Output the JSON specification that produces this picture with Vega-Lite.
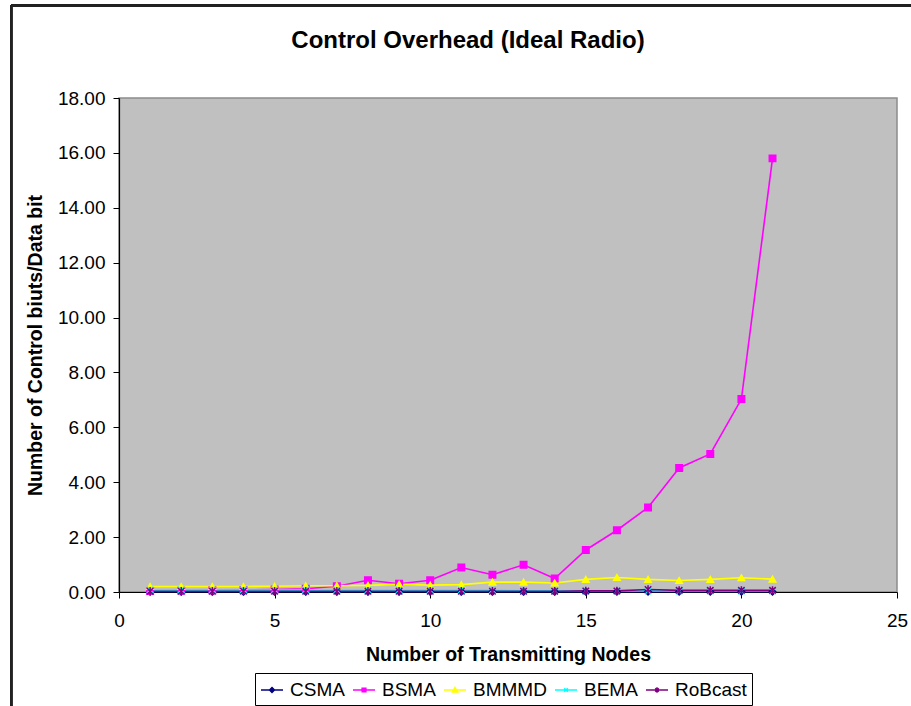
{
  "$schema": "https://vega.github.io/schema/vega-lite/v6.json",
  "width": 778,
  "height": 494,
  "autosize": {"type": "none"},
  "padding": {"left": 119, "top": 98, "right": 14, "bottom": 114},
  "background": "white",
  "title": {
    "text": "Control Overhead (Ideal Radio)",
    "font": "Liberation Sans",
    "fontSize": 24,
    "fontWeight": "bold",
    "color": "black",
    "anchor": "middle",
    "baseline": "alphabetic",
    "offset": -67,
    "dx": -40
  },
  "datasets": {
    "overhead": [
      {"n": 1, "series": "CSMA", "value": 0.01}, {"n": 2, "series": "CSMA", "value": 0.01}, {"n": 3, "series": "CSMA", "value": 0.01},
      {"n": 4, "series": "CSMA", "value": 0.01}, {"n": 5, "series": "CSMA", "value": 0.01}, {"n": 6, "series": "CSMA", "value": 0.01},
      {"n": 7, "series": "CSMA", "value": 0.01}, {"n": 8, "series": "CSMA", "value": 0.01}, {"n": 9, "series": "CSMA", "value": 0.01},
      {"n": 10, "series": "CSMA", "value": 0.01}, {"n": 11, "series": "CSMA", "value": 0.01}, {"n": 12, "series": "CSMA", "value": 0.01},
      {"n": 13, "series": "CSMA", "value": 0.01}, {"n": 14, "series": "CSMA", "value": 0.01}, {"n": 15, "series": "CSMA", "value": 0.01},
      {"n": 16, "series": "CSMA", "value": 0.01}, {"n": 17, "series": "CSMA", "value": 0.01}, {"n": 18, "series": "CSMA", "value": 0.01},
      {"n": 19, "series": "CSMA", "value": 0.01}, {"n": 20, "series": "CSMA", "value": 0.01}, {"n": 21, "series": "CSMA", "value": 0.01},

      {"n": 1, "series": "BSMA", "value": 0.04}, {"n": 2, "series": "BSMA", "value": 0.05}, {"n": 3, "series": "BSMA", "value": 0.06},
      {"n": 4, "series": "BSMA", "value": 0.07}, {"n": 5, "series": "BSMA", "value": 0.09}, {"n": 6, "series": "BSMA", "value": 0.12},
      {"n": 7, "series": "BSMA", "value": 0.21}, {"n": 8, "series": "BSMA", "value": 0.43}, {"n": 9, "series": "BSMA", "value": 0.30},
      {"n": 10, "series": "BSMA", "value": 0.43}, {"n": 11, "series": "BSMA", "value": 0.89}, {"n": 12, "series": "BSMA", "value": 0.63},
      {"n": 13, "series": "BSMA", "value": 0.99}, {"n": 14, "series": "BSMA", "value": 0.49}, {"n": 15, "series": "BSMA", "value": 1.53},
      {"n": 16, "series": "BSMA", "value": 2.25}, {"n": 17, "series": "BSMA", "value": 3.08}, {"n": 18, "series": "BSMA", "value": 4.52},
      {"n": 19, "series": "BSMA", "value": 5.03}, {"n": 20, "series": "BSMA", "value": 7.03}, {"n": 21, "series": "BSMA", "value": 15.80},

      {"n": 1, "series": "BMMMD", "value": 0.20}, {"n": 2, "series": "BMMMD", "value": 0.20}, {"n": 3, "series": "BMMMD", "value": 0.20},
      {"n": 4, "series": "BMMMD", "value": 0.20}, {"n": 5, "series": "BMMMD", "value": 0.21}, {"n": 6, "series": "BMMMD", "value": 0.23},
      {"n": 7, "series": "BMMMD", "value": 0.23}, {"n": 8, "series": "BMMMD", "value": 0.24}, {"n": 9, "series": "BMMMD", "value": 0.28},
      {"n": 10, "series": "BMMMD", "value": 0.25}, {"n": 11, "series": "BMMMD", "value": 0.27}, {"n": 12, "series": "BMMMD", "value": 0.36},
      {"n": 13, "series": "BMMMD", "value": 0.36}, {"n": 14, "series": "BMMMD", "value": 0.33}, {"n": 15, "series": "BMMMD", "value": 0.46},
      {"n": 16, "series": "BMMMD", "value": 0.53}, {"n": 17, "series": "BMMMD", "value": 0.46}, {"n": 18, "series": "BMMMD", "value": 0.42},
      {"n": 19, "series": "BMMMD", "value": 0.46}, {"n": 20, "series": "BMMMD", "value": 0.52}, {"n": 21, "series": "BMMMD", "value": 0.47},

      {"n": 1, "series": "BEMA", "value": 0.07}, {"n": 2, "series": "BEMA", "value": 0.07}, {"n": 3, "series": "BEMA", "value": 0.07},
      {"n": 4, "series": "BEMA", "value": 0.07}, {"n": 5, "series": "BEMA", "value": 0.07}, {"n": 6, "series": "BEMA", "value": 0.07},
      {"n": 7, "series": "BEMA", "value": 0.07}, {"n": 8, "series": "BEMA", "value": 0.07}, {"n": 9, "series": "BEMA", "value": 0.07},
      {"n": 10, "series": "BEMA", "value": 0.07}, {"n": 11, "series": "BEMA", "value": 0.07}, {"n": 12, "series": "BEMA", "value": 0.07},
      {"n": 13, "series": "BEMA", "value": 0.04}, {"n": 14, "series": "BEMA", "value": 0.04}, {"n": 15, "series": "BEMA", "value": 0.04},
      {"n": 16, "series": "BEMA", "value": 0.04}, {"n": 17, "series": "BEMA", "value": 0.04}, {"n": 18, "series": "BEMA", "value": 0.04},
      {"n": 19, "series": "BEMA", "value": 0.04}, {"n": 20, "series": "BEMA", "value": 0.04}, {"n": 21, "series": "BEMA", "value": 0.04},

      {"n": 1, "series": "RoBcast", "value": 0.03}, {"n": 2, "series": "RoBcast", "value": 0.03}, {"n": 3, "series": "RoBcast", "value": 0.03},
      {"n": 4, "series": "RoBcast", "value": 0.03}, {"n": 5, "series": "RoBcast", "value": 0.03}, {"n": 6, "series": "RoBcast", "value": 0.03},
      {"n": 7, "series": "RoBcast", "value": 0.03}, {"n": 8, "series": "RoBcast", "value": 0.03}, {"n": 9, "series": "RoBcast", "value": 0.03},
      {"n": 10, "series": "RoBcast", "value": 0.03}, {"n": 11, "series": "RoBcast", "value": 0.03}, {"n": 12, "series": "RoBcast", "value": 0.03},
      {"n": 13, "series": "RoBcast", "value": 0.03}, {"n": 14, "series": "RoBcast", "value": 0.03}, {"n": 15, "series": "RoBcast", "value": 0.04},
      {"n": 16, "series": "RoBcast", "value": 0.04}, {"n": 17, "series": "RoBcast", "value": 0.09}, {"n": 18, "series": "RoBcast", "value": 0.06},
      {"n": 19, "series": "RoBcast", "value": 0.06}, {"n": 20, "series": "RoBcast", "value": 0.06}, {"n": 21, "series": "RoBcast", "value": 0.06}
    ]
  },
  "data": {"name": "overhead"},
  "resolve": {"scale": {"shape": "independent"}, "legend": {"shape": "independent"}},
  "layer": [
    {
      "mark": {"type": "rule", "color": "#222222", "strokeWidth": 2},
      "encoding": {
        "x": {"datum": -3.47, "type": "quantitative"},
        "y": {"datum": -5, "type": "quantitative"},
        "y2": {"datum": 21.36}
      }
    },
    {
      "mark": {"type": "rule", "color": "#222222", "strokeWidth": 2},
      "encoding": {
        "x": {"datum": -3.47, "type": "quantitative"},
        "x2": {"datum": 27},
        "y": {"datum": 21.36, "type": "quantitative"}
      }
    },
    {
      "mark": {"type": "line", "strokeWidth": 1.6},
      "encoding": {
        "x": {"field": "n", "type": "quantitative"},
        "y": {"field": "value", "type": "quantitative"},
        "color": {
          "field": "series", "type": "nominal",
          "scale": {
            "domain": ["CSMA", "BSMA", "BMMMD", "BEMA", "RoBcast"],
            "range": ["#000080", "#FF00FF", "#FFFF00", "#00FFFF", "#800080"]
          },
          "legend": {
            "title": null,
            "symbolType": "stroke",
            "encode": {
              "symbols": {
                "update": {
                  "shape": {
                    "signal": "datum.value === 'CSMA' ? 'M-1,0H1M0,-0.22L0.22,0L0,0.22L-0.22,0Z' : datum.value === 'BSMA' ? 'M-1,0H1M-0.17,-0.17H0.17V0.17H-0.17Z' : datum.value === 'BMMMD' ? 'M-1,0H1M0,-0.22L0.24,0.18H-0.24Z' : datum.value === 'BEMA' ? 'M-1,0H1M-0.16,-0.16L0.16,0.16M-0.16,0.16L0.16,-0.16' : 'M-1,0H1M-0.16,-0.16L0.16,0.16M-0.16,0.16L0.16,-0.16M0,-0.24V0.24'"
                  },
                  "fill": {"signal": "scale('color', datum.value)"},
                  "stroke": {"signal": "scale('color', datum.value)"},
                  "strokeWidth": {"value": 1.5},
                  "size": {"value": 484},
                  "opacity": {"value": 1}
                }
              }
            }
          }
        },
        "order": {"field": "n"}
      }
    },
    {
      "mark": {"type": "point", "filled": true, "size": 42, "strokeWidth": 1.5, "opacity": 1},
      "encoding": {
        "x": {"field": "n", "type": "quantitative"},
        "y": {"field": "value", "type": "quantitative"},
        "color": {"field": "series", "type": "nominal", "legend": null},
        "stroke": {
          "field": "series", "type": "nominal", "legend": null,
          "scale": {
            "domain": ["CSMA", "BSMA", "BMMMD", "BEMA", "RoBcast"],
            "range": ["#000080", "#FF00FF", "#FFFF00", "#00FFFF", "#800080"]
          }
        },
        "shape": {
          "field": "series", "type": "nominal", "legend": null,
          "scale": {
            "domain": ["CSMA", "BSMA", "BMMMD", "BEMA", "RoBcast"],
            "range": [
              "diamond",
              "square",
              "triangle-up",
              "M-1,-1L1,1M-1,1L1,-1",
              "M-1,-1L1,1M-1,1L1,-1M0,-1.3V1.3"
            ]
          }
        }
      }
    }
  ],
  "encoding": {
    "x": {
      "type": "quantitative",
      "scale": {"domain": [0, 25], "nice": false, "zero": false},
      "axis": {
        "title": "Number of Transmitting Nodes",
        "values": [0, 5, 10, 15, 20, 25],
        "grid": false
      }
    },
    "y": {
      "type": "quantitative",
      "scale": {"domain": [0, 18], "nice": false, "zero": false},
      "axis": {
        "title": "Number of Control biuts/Data bit",
        "values": [0, 2, 4, 6, 8, 10, 12, 14, 16, 18],
        "format": ".2f",
        "gridOpacity": {"condition": {"test": "datum.value >= 18", "value": 0}, "value": 1}
      }
    }
  },
  "config": {
    "font": "Liberation Sans",
    "view": {"fill": "#C0C0C0", "stroke": "#8C8C8C", "strokeWidth": 1.5},
    "axis": {
      "labelFont": "Liberation Sans",
      "labelFontSize": 19,
      "labelColor": "black",
      "titleFont": "Liberation Sans",
      "titleFontSize": 19.5,
      "titleFontWeight": "bold",
      "titleColor": "black",
      "domainColor": "black",
      "domainWidth": 1.2,
      "tickColor": "black",
      "tickSize": 6,
      "tickWidth": 1,
      "gridColor": "#333333",
      "gridWidth": 1.2
    },
    "axisX": {"labelPadding": 13, "titlePadding": 15, "labelFlush": false},
    "axisY": {"labelPadding": 8, "titlePadding": 12},
    "legend": {
      "orient": "none",
      "legendX": 136,
      "legendY": 575,
      "direction": "horizontal",
      "columns": 5,
      "columnPadding": 5,
      "labelFont": "Liberation Sans",
      "labelFontSize": 19,
      "labelColor": "black",
      "labelOffset": 6,
      "symbolSize": 484,
      "symbolStrokeWidth": 1.5,
      "symbolOpacity": 1,
      "strokeColor": "black",
      "fillColor": "white",
      "padding": 5
    }
  }
}
